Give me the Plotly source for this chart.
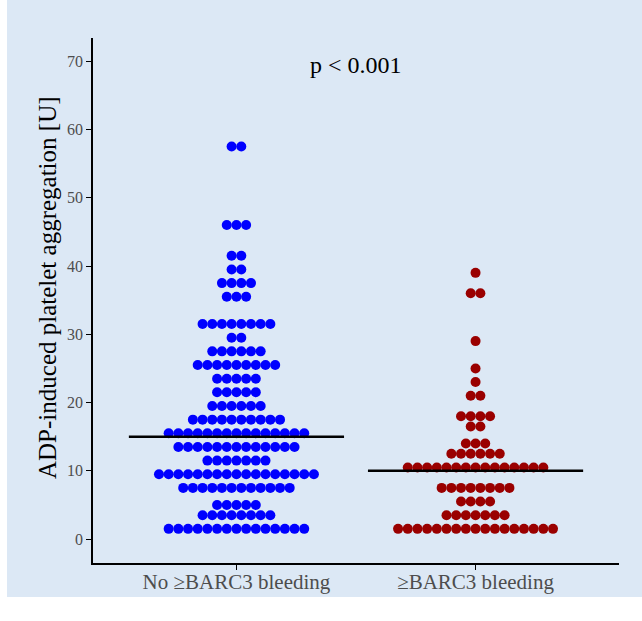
import numpy as np
import plotly.graph_objects as go

# ---- data ----
categories = ["No \u2265BARC3 bleeding", "\u2265BARC3 bleeding"]

blue_levels = [57.5, 46, 41.5, 39.5, 37.5, 35.5, 31.5, 29.5, 27.5, 25.5, 23.5,
               21.5, 19.5, 17.5, 15.5, 13.5, 11.5, 9.5, 7.5, 5.0, 3.5, 1.5]
blue_counts = [2, 3, 2, 2, 4, 3, 8, 2, 6, 9, 5,
               5, 6, 10, 15, 13, 7, 17, 12, 5, 8, 15]

red_levels = [39, 36, 29, 25, 23, 21, 18, 16.5, 14, 12.5, 10.5, 7.5, 5.5, 3.5, 1.5]
red_counts = [1, 2, 1, 1, 1, 2, 4, 2, 3, 6, 15, 8, 4, 7, 17]

medians = [15, 10]
y_ticks = [0, 10, 20, 30, 40, 50, 60, 70]
p_text = "p < 0.001"
y_title = "ADP-induced platelet aggregation [U]"

# ---- styling ----
BG = "#dce8f5"
BLUE = "#0000ff"
RED = "#9a0000"
SERIF = "Liberation Serif, Times New Roman, serif"
DOT_W = 0.0405  # horizontal spacing of stacked dots (x units)


def stack(center, levels, counts):
    xs, ys = [], []
    for lv, n in zip(levels, counts):
        offs = (np.arange(n) - (n - 1) / 2.0) * DOT_W
        xs.extend(center + offs)
        ys.extend([lv] * n)
    return xs, ys


fig = go.Figure()
for i, (lv, ct, col) in enumerate([(blue_levels, blue_counts, BLUE),
                                    (red_levels, red_counts, RED)]):
    xs, ys = stack(i + 1, lv, ct)
    fig.add_trace(go.Scatter(x=xs, y=ys, mode="markers",
                             marker=dict(size=10, color=col, line=dict(width=0)),
                             showlegend=False, hoverinfo="skip"))

for i, m in enumerate(medians):
    fig.add_trace(go.Scatter(x=[i + 1 - 0.45, i + 1 + 0.45], y=[m, m], mode="lines",
                             line=dict(color="black", width=2.5),
                             showlegend=False, hoverinfo="skip"))

fig.add_annotation(x=1.5, y=69.5, xref="x", yref="y", text=p_text, showarrow=False,
                   font=dict(family=SERIF, size=24, color="black"))

# y-axis title as rotated annotation
fig.add_annotation(x=(47 - 93) / 526, y=(563 - 288) / 525, xref="paper", yref="paper",
                   text=y_title, textangle=-90, showarrow=False,
                   xanchor="center", yanchor="middle",
                   font=dict(family=SERIF, size=25, color="black"))

# white outer strip + light-blue panel
fig.add_shape(type="rect", xref="paper", yref="paper",
              x0=-93/526 + 7/526, x1=1 + 23/526 + 0.01, y0=-(597-563)/525, y1=1 + 38/525 + 0.01,
              fillcolor=BG, line=dict(width=0), layer="below")

fig.update_layout(
    width=642, height=621,
    margin=dict(l=93, r=23, t=38, b=58),
    paper_bgcolor="white",
    plot_bgcolor="rgba(0,0,0,0)",
    xaxis=dict(range=[0.4, 2.6], tickvals=[1, 2], ticktext=categories,
               showgrid=False, zeroline=False, showline=True, linecolor="black",
               linewidth=1.5, ticks="outside", ticklen=5, tickcolor="black",
               ticklabelstandoff=-6,
               tickfont=dict(family=SERIF, size=21, color="#4d4d4d")),
    yaxis=dict(range=[-3.5, 73.4], tickvals=y_ticks,
               showgrid=False, zeroline=False, showline=True, linecolor="black",
               linewidth=1.5, ticks="outside", ticklen=5, tickcolor="black",
               tickfont=dict(family=SERIF, size=16, color="#4d4d4d")),
)

fig.write_html("out.html")
